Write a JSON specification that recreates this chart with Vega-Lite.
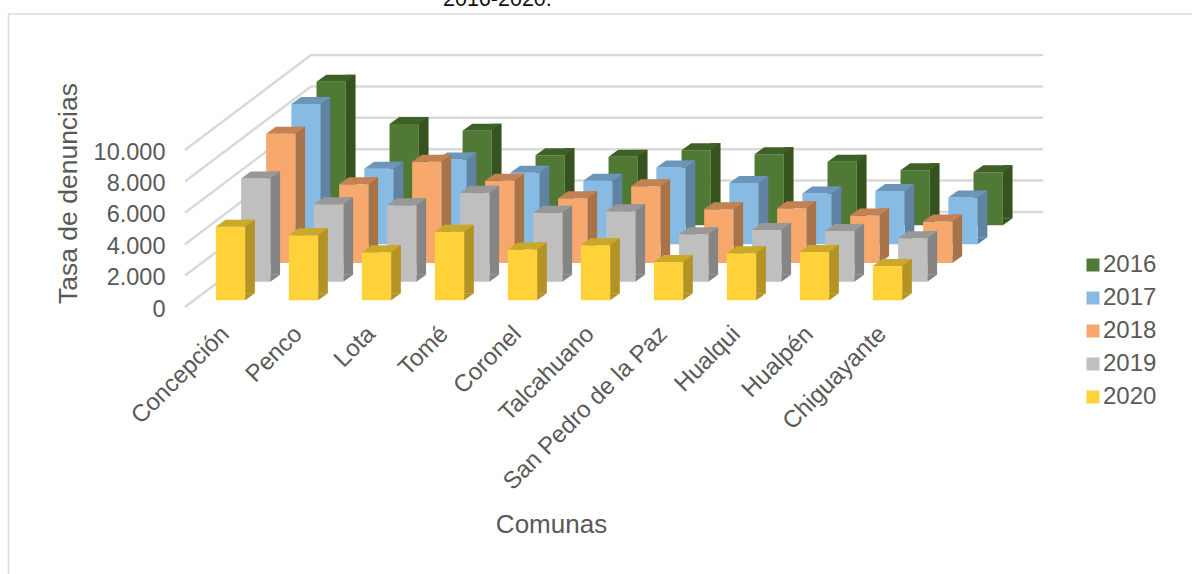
{"$schema":"https://vega.github.io/schema/vega-lite/v6.json","width":730,"height":157,"autosize":"none","padding":{"left":185,"top":150,"right":277,"bottom":267},"background":"white","config":{"view":{"stroke":null},"font":"Liberation Sans"},"datasets":{"bars":[
{"comuna":"Concepción","year":"2016","tasa":9145},{"comuna":"Penco","year":"2016","tasa":6445},{"comuna":"Lota","year":"2016","tasa":6018},{"comuna":"Tomé","year":"2016","tasa":4467},{"comuna":"Coronel","year":"2016","tasa":4359},{"comuna":"Talcahuano","year":"2016","tasa":4786},{"comuna":"San Pedro de la Paz","year":"2016","tasa":4531},{"comuna":"Hualqui","year":"2016","tasa":4040},{"comuna":"Hualpén","year":"2016","tasa":3510},{"comuna":"Chiguayante","year":"2016","tasa":3382},
{"comuna":"Concepción","year":"2017","tasa":8934},{"comuna":"Penco","year":"2017","tasa":4805},{"comuna":"Lota","year":"2017","tasa":5405},{"comuna":"Tomé","year":"2017","tasa":4550},{"comuna":"Coronel","year":"2017","tasa":4040},{"comuna":"Talcahuano","year":"2017","tasa":4895},{"comuna":"San Pedro de la Paz","year":"2017","tasa":3912},{"comuna":"Hualqui","year":"2017","tasa":3235},{"comuna":"Hualpén","year":"2017","tasa":3401},{"comuna":"Chiguayante","year":"2017","tasa":2980},
{"comuna":"Concepción","year":"2018","tasa":8232},{"comuna":"Penco","year":"2018","tasa":5022},{"comuna":"Lota","year":"2018","tasa":6445},{"comuna":"Tomé","year":"2018","tasa":5233},{"comuna":"Coronel","year":"2018","tasa":4129},{"comuna":"Talcahuano","year":"2018","tasa":4895},{"comuna":"San Pedro de la Paz","year":"2018","tasa":3427},{"comuna":"Hualqui","year":"2018","tasa":3491},{"comuna":"Hualpén","year":"2018","tasa":3025},{"comuna":"Chiguayante","year":"2018","tasa":2642},
{"comuna":"Concepción","year":"2019","tasa":6586},{"comuna":"Penco","year":"2019","tasa":4946},{"comuna":"Lota","year":"2019","tasa":4882},{"comuna":"Tomé","year":"2019","tasa":5667},{"comuna":"Coronel","year":"2019","tasa":4391},{"comuna":"Talcahuano","year":"2019","tasa":4499},{"comuna":"San Pedro de la Paz","year":"2019","tasa":3031},{"comuna":"Hualqui","year":"2019","tasa":3306},{"comuna":"Hualpén","year":"2019","tasa":3242},{"comuna":"Chiguayante","year":"2019","tasa":2776},
{"comuna":"Concepción","year":"2020","tasa":4678},{"comuna":"Penco","year":"2020","tasa":4148},{"comuna":"Lota","year":"2020","tasa":3063},{"comuna":"Tomé","year":"2020","tasa":4359},{"comuna":"Coronel","year":"2020","tasa":3235},{"comuna":"Talcahuano","year":"2020","tasa":3510},{"comuna":"San Pedro de la Paz","year":"2020","tasa":2444},{"comuna":"Hualqui","year":"2020","tasa":2999},{"comuna":"Hualpén","year":"2020","tasa":3082},{"comuna":"Chiguayante","year":"2020","tasa":2189}],
"levels":[{"level":0},{"level":2000},{"level":4000},{"level":6000},{"level":8000},{"level":10000}],"frame":[{"level":10000,"label":"2016-2020."}]},
"encoding":{"x":{"field":"comuna","type":"nominal","scale":{"domain":["Concepción","Penco","Lota","Tomé","Coronel","Talcahuano","San Pedro de la Paz","Hualqui","Hualpén","Chiguayante"],"paddingInner":0,"paddingOuter":0},"axis":{"title":"Comunas","titleFontSize":26,"titleColor":"#595959","titleFontWeight":"normal","titleX":366,"titleY":217,"titleBaseline":"middle","labelFontSize":24,"labelColor":"#595959","labelAngle":-45,"labelAlign":"right","labelBaseline":"middle","labelPadding":23,"labelOffset":4,"domain":false,"ticks":false,"labelOverlap":false,"labelLimit":300}},"y":{"field":"tasa","type":"quantitative","scale":{"domain":[0,10000],"nice":false},"axis":{"title":"Tasa de denuncias","values":[0,2000,4000,6000,8000,10000],"labelExpr":"replace(format(datum.value,','),',','.')","labelFontSize":23.5,"labelColor":"#595959","labelPadding":20,"labelOffset":2,"domain":false,"ticks":false,"grid":false,"titleFontSize":26.5,"titleColor":"#595959","titleFontWeight":"normal","titleX":-103,"titleY":43}}},
"layer":[
{"data":{"name":"frame"},"mark":{"type":"text","align":"left","baseline":"alphabetic","fontSize":21.5,"font":"Liberation Sans","color":"#111111","xOffset":221.5,"yOffset":-144},"encoding":{"x":{"datum":"Concepción"},"y":{"field":"level","type":"quantitative"},"text":{"field":"label","type":"nominal"}}},
{"data":{"name":"frame"},"mark":{"type":"point","filled":false,"opacity":1,"stroke":"#dcdcdc","strokeWidth":1.5,"shape":"M-213 424L-213 -136L971 -136"},"encoding":{"x":{"datum":"Concepción"},"y":{"field":"level","type":"quantitative"},"size":{"value":4}}},
{"data":{"name":"levels"},"mark":{"type":"point","filled":false,"opacity":1,"stroke":"#d9d9d9","strokeWidth":2.5,"shape":"M-36.5 0L89.5 -95L821.5 -95"},"encoding":{"x":{"datum":"Concepción"},"y":{"field":"level","type":"quantitative"},"size":{"value":4}}},
{"data":{"name":"bars"},"transform":[{"filter":"datum.year==='2016'"}],"layer":[
{"mark":{"type":"bar","width":9.7,"xOffset":129.2,"yOffset":-88.7,"fill":"#36521f"}},
{"mark":{"type":"bar","width":29.3,"xOffset":109.7,"yOffset":-81.7},"encoding":{"color":{"field":"year","type":"nominal","scale":{"domain":["2016","2017","2018","2019","2020"],"range":["#507935","#88bbe4","#f6a86d","#bfbfbf","#ffd23a"]},"legend":{"title":null,"orient":"none","legendX":896,"legendY":103,"symbolType":"square","symbolSize":169,"symbolStrokeWidth":0,"labelFontSize":24,"labelColor":"#595959","rowPadding":9,"labelOffset":-2}}}},
{"mark":{"type":"point","filled":true,"opacity":1,"fill":"#36521f","xOffset":109.7,"yOffset":-81.7,"shape":"M14.65 0L24.35 -7L14.65 -7Z"},"encoding":{"y":{"datum":0},"size":{"value":4}}},
{"mark":{"type":"point","filled":true,"opacity":1,"fill":"#3f6128","xOffset":109.7,"yOffset":-81.7,"shape":"M-14.65 0L14.65 0L24.35 -7L-4.95 -7Z"},"encoding":{"size":{"value":4}}}]},
{"data":{"name":"bars"},"transform":[{"filter":"datum.year==='2017'"}],"layer":[
{"mark":{"type":"bar","width":9.7,"xOffset":104,"yOffset":-69.7,"fill":"#6082a3"}},
{"mark":{"type":"bar","width":29.3,"xOffset":84.5,"yOffset":-62.7},"encoding":{"color":{"field":"year","type":"nominal"}}},
{"mark":{"type":"point","filled":true,"opacity":1,"fill":"#6082a3","xOffset":84.5,"yOffset":-62.7,"shape":"M14.65 0L24.35 -7L14.65 -7Z"},"encoding":{"y":{"datum":0},"size":{"value":4}}},
{"mark":{"type":"point","filled":true,"opacity":1,"fill":"#6b96bb","xOffset":84.5,"yOffset":-62.7,"shape":"M-14.65 0L14.65 0L24.35 -7L-4.95 -7Z"},"encoding":{"size":{"value":4}}}]},
{"data":{"name":"bars"},"transform":[{"filter":"datum.year==='2018'"}],"layer":[
{"mark":{"type":"bar","width":9.7,"xOffset":78.8,"yOffset":-51,"fill":"#a9734a"}},
{"mark":{"type":"bar","width":29.3,"xOffset":59.3,"yOffset":-44},"encoding":{"color":{"field":"year","type":"nominal"}}},
{"mark":{"type":"point","filled":true,"opacity":1,"fill":"#a9734a","xOffset":59.3,"yOffset":-44,"shape":"M14.65 0L24.35 -7L14.65 -7Z"},"encoding":{"y":{"datum":0},"size":{"value":4}}},
{"mark":{"type":"point","filled":true,"opacity":1,"fill":"#c48253","xOffset":59.3,"yOffset":-44,"shape":"M-14.65 0L14.65 0L24.35 -7L-4.95 -7Z"},"encoding":{"size":{"value":4}}}]},
{"data":{"name":"bars"},"transform":[{"filter":"datum.year==='2019'"}],"layer":[
{"mark":{"type":"bar","width":9.7,"xOffset":53.75,"yOffset":-32.2,"fill":"#858585"}},
{"mark":{"type":"bar","width":29.3,"xOffset":34.25,"yOffset":-25.2},"encoding":{"color":{"field":"year","type":"nominal"}}},
{"mark":{"type":"point","filled":true,"opacity":1,"fill":"#858585","xOffset":34.25,"yOffset":-25.2,"shape":"M14.65 0L24.35 -7L14.65 -7Z"},"encoding":{"y":{"datum":0},"size":{"value":4}}},
{"mark":{"type":"point","filled":true,"opacity":1,"fill":"#989898","xOffset":34.25,"yOffset":-25.2,"shape":"M-14.65 0L14.65 0L24.35 -7L-4.95 -7Z"},"encoding":{"size":{"value":4}}}]},
{"data":{"name":"bars"},"transform":[{"filter":"datum.year==='2020'"}],"layer":[
{"mark":{"type":"bar","width":9.7,"xOffset":28.5,"yOffset":-13.7,"fill":"#b29324"}},
{"mark":{"type":"bar","width":29.3,"xOffset":9,"yOffset":-6.7},"encoding":{"color":{"field":"year","type":"nominal"}}},
{"mark":{"type":"point","filled":true,"opacity":1,"fill":"#b29324","xOffset":9,"yOffset":-6.7,"shape":"M14.65 0L24.35 -7L14.65 -7Z"},"encoding":{"y":{"datum":0},"size":{"value":4}}},
{"mark":{"type":"point","filled":true,"opacity":1,"fill":"#c9a82a","xOffset":9,"yOffset":-6.7,"shape":"M-14.65 0L14.65 0L24.35 -7L-4.95 -7Z"},"encoding":{"size":{"value":4}}}]}
]}
